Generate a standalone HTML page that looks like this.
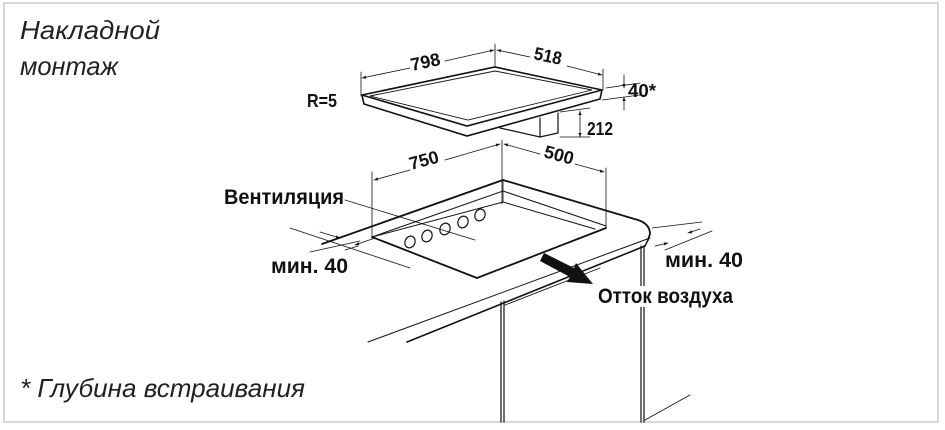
<!DOCTYPE html>
<html><head><meta charset="utf-8"><style>
html,body{margin:0;padding:0;background:#fff;}
svg{display:block;}
.t{font-family:"Liberation Sans",sans-serif;font-style:italic;font-size:26px;fill:#222;}
.b{font-family:"Liberation Sans",sans-serif;font-weight:bold;font-size:21px;fill:#111;}
.d{font-family:"Liberation Sans",sans-serif;font-weight:bold;font-size:18px;fill:#111;}
</style></head><body>
<svg width="945" height="430" viewBox="0 0 945 430" xmlns="http://www.w3.org/2000/svg">
<defs>
<marker id="a" viewBox="0 0 10 10" refX="10" refY="5" markerWidth="7" markerHeight="5" orient="auto-start-reverse"><path d="M0,1 L10,5 L0,9z" fill="#111"/></marker>
</defs>
<rect x="4" y="3" width="934" height="419" fill="none" stroke="#ccc" stroke-width="1.5"/>
<text class="t" x="20" y="39" textLength="140" lengthAdjust="spacingAndGlyphs">Накладной</text>
<text class="t" x="20" y="75" textLength="98" lengthAdjust="spacingAndGlyphs">монтаж</text>
<text class="t" x="20" y="397" textLength="285" lengthAdjust="spacingAndGlyphs">* Глубина встраивания</text>
<text class="d" x="307" y="107" textLength="30" lengthAdjust="spacingAndGlyphs">R=5</text>

<g fill="none" stroke="#111" stroke-linecap="round">
<!-- hob -->
<path d="M362,95 L495,67 L602,90 L467,126 Z" stroke-width="1.6"/>
<path d="M370,96 L495,71 L592,90 L468,120 Z" stroke-width="0.9"/>
<path d="M362,95 L364,104 L467,136 L600,99 L602,90" stroke-width="1.6"/>
<path d="M500,128 L540,137 L558,133 L558,113" stroke-width="1.2"/>
<path d="M540,137 L540,118" stroke-width="1.2"/>
<!-- hob dims -->
<g stroke-width="0.8">
<path d="M361,96 V72"/><path d="M495,66 V44"/><path d="M603,90 V69"/>
<path d="M606,88 L640,83"/><path d="M602,100 L640,95"/>
<path d="M560,112 L590,108"/><path d="M560,137 L590,137"/>
<path d="M362,78 L410,68" marker-start="url(#a)"/><path d="M445,61 L494,50" marker-end="url(#a)"/>
<path d="M497,50 L530,57" marker-start="url(#a)"/><path d="M567,66 L602,75" marker-end="url(#a)"/>
<path d="M624,75 V88" marker-end="url(#a)"/><path d="M624,110 V97" marker-end="url(#a)"/>
<path d="M580,111 V137" marker-start="url(#a)" marker-end="url(#a)"/>
</g>
<!-- cutout dims -->
<g stroke-width="0.8">
<path d="M372,172 V238"/><path d="M502,140 V204"/><path d="M606,168 V228"/>
<path d="M374,180 L410,170" marker-start="url(#a)"/><path d="M445,160 L500,144" marker-end="url(#a)"/>
<path d="M504,144 L540,154" marker-start="url(#a)"/><path d="M575,164 L604,172" marker-end="url(#a)"/>
<path d="M345,200 L475,240"/>
<path d="M290,228 L410,268"/><path d="M310,252 L360,241"/>
<path d="M320,232 L340,238" marker-end="url(#a)"/><path d="M345,250 L358,246"/>
<path d="M355,245 L375,238" marker-start="url(#a)"/>
<path d="M652,228 L702,222"/><path d="M665,250 L712,231"/>
<path d="M655,246 L668,243" marker-end="url(#a)"/><path d="M700,229 L688,233" marker-end="url(#a)"/>
</g>
<!-- countertop -->
<path d="M322,244 L503,180 L638,220 Q650,224 650,234 L648,240" stroke-width="1.8"/>
<path d="M372,237 L503,191 L606,226" stroke-width="1"/>
<path d="M372,237 L503,202 L595,229" stroke-width="1"/>
<path d="M503,180 V202" stroke-width="0.8"/>
<path d="M372,237 L477,278 L606,228" stroke-width="1.8"/>
<path d="M368,342 L650,238" stroke-width="1"/>
<path d="M407,342 L645,246" stroke-width="1.6"/>
<path d="M648,240 L645,246" stroke-width="1.4"/>
<!-- holes -->
<g stroke-width="1.2">
<ellipse cx="410" cy="242" rx="5" ry="6" transform="rotate(25 410 242)"/>
<ellipse cx="427" cy="236" rx="5" ry="6" transform="rotate(25 427 236)"/>
<ellipse cx="445" cy="229" rx="5" ry="6" transform="rotate(25 445 229)"/>
<ellipse cx="463" cy="222" rx="5" ry="6" transform="rotate(25 463 222)"/>
<ellipse cx="480" cy="215" rx="5" ry="6" transform="rotate(25 480 215)"/>
</g>
<!-- cabinet -->
<path d="M501,302 V422 M504,301 V422" stroke-width="1.2"/>
<path d="M505,305 L600,268" stroke-width="0.9"/>
<path d="M641,246 V422 M644,246 V422" stroke-width="1.2"/>
<path d="M645,420 L690,395" stroke-width="0.9"/>
</g>
<!-- air arrow -->
<path d="M544,253 L574,268 L576,263 L593,284 L567,282 L570,277 L540,261 Z" fill="#111"/>

<text class="d" transform="translate(412,71) rotate(-12)" textLength="30" lengthAdjust="spacingAndGlyphs">798</text>
<text class="d" transform="translate(533,59) rotate(12)" textLength="28" lengthAdjust="spacingAndGlyphs">518</text>
<text class="d" x="628" y="97" textLength="28" lengthAdjust="spacingAndGlyphs">40*</text>
<text class="d" x="587" y="135" textLength="26" lengthAdjust="spacingAndGlyphs">212</text>
<text class="d" transform="translate(411,170) rotate(-15)" textLength="30" lengthAdjust="spacingAndGlyphs">750</text>
<text class="d" transform="translate(543,157) rotate(15)" textLength="30" lengthAdjust="spacingAndGlyphs">500</text>
<text class="b" x="224" y="204" textLength="120" lengthAdjust="spacingAndGlyphs">Вентиляция</text>
<text class="b" x="271" y="273" textLength="77" lengthAdjust="spacingAndGlyphs">мин. 40</text>
<text class="b" x="665" y="267" textLength="78" lengthAdjust="spacingAndGlyphs">мин. 40</text>
<rect x="596" y="286" width="140" height="21" fill="#fff"/>
<text class="b" x="598" y="303" textLength="135" lengthAdjust="spacingAndGlyphs">Отток воздуха</text>
</svg>
</body></html>
